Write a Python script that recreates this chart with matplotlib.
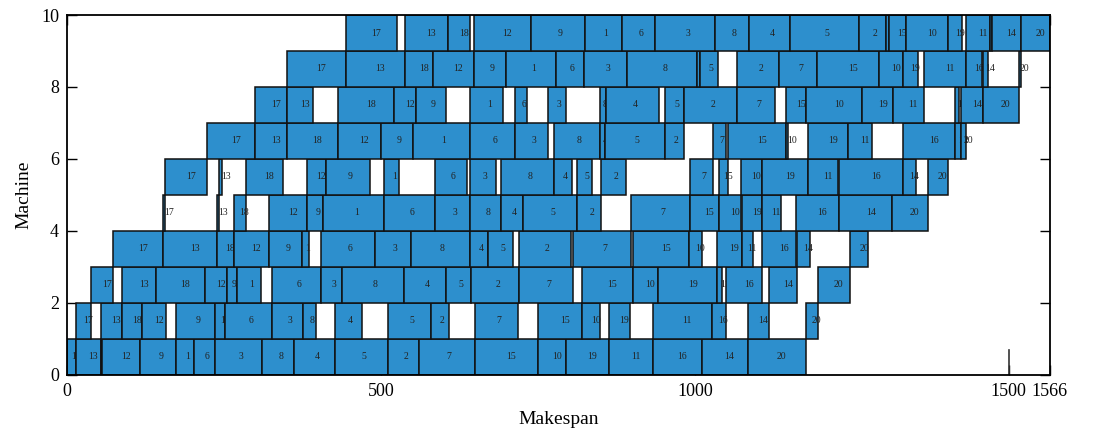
import matplotlib
matplotlib.use("Agg")
import matplotlib.pyplot as plt

plt.rcParams["font.family"] = ["Liberation Serif", "DejaVu Serif"]

# Job processing order (permutation flow shop)
sequence = [17, 13, 18, 12, 9, 1, 6, 3, 8, 4, 5, 2, 7, 15, 10, 19, 11, 16, 14, 20]

# Processing times, one list per machine, aligned with `sequence`
m0 = [14, 39, 3, 60, 58, 28, 33, 75, 52, 64, 85, 49, 89, 101, 44, 69, 70, 78, 73, 93]
m1 = [23, 34, 32, 38, 61, 17, 74, 49, 22, 43, 68, 30, 69, 71, 28, 33, 94, 22, 34, 19]
m2 = [36, 54, 78, 35, 17, 38, 78, 33, 100, 66, 41, 76, 86, 80, 41, 94, 8, 58, 45, 52]
m3 = [79, 87, 26, 56, 53, 11, 86, 57, 94, 29, 40, 82, 92, 90, 20, 39, 17, 54, 21, 28]
m4 = [4, 3, 19, 61, 26, 97, 81, 56, 49, 36, 86, 38, 94, 47, 35, 32, 30, 69, 85, 56]
m5 = [66, 5, 60, 30, 70, 24, 51, 41, 84, 29, 23, 39, 37, 14, 33, 73, 49, 101, 22, 33]
m6 = [77, 51, 81, 69, 51, 91, 72, 52, 74, 8, 95, 30, 21, 92, 3, 64, 38, 84, 10, 7]
m7 = [51, 42, 90, 34, 48, 53, 19, 28, 9, 85, 31, 85, 60, 32, 90, 49, 49, 6, 34, 57]
m8 = [94, 94, 45, 65, 51, 80, 44, 69, 112, 4, 29, 66, 61, 99, 38, 24, 67, 26, 8, 4]
m9 = [81, 69, 35, 91, 86, 59, 53, 95, 54, 66, 110, 43, 4, 28, 67, 22, 38, 3, 47, 46]
proc_times = [m0, m1, m2, m3, m4, m5, m6, m7, m8, m9]

makespan = 1566
bound = 1500
x_ticks = [0, 500, 1000, 1500, 1566]
y_ticks = [0, 2, 4, 6, 8, 10]

bar_color = "#2d8fcd"

# Semi-active schedule: a job starts when both the machine and the job are free
n_mach = len(proc_times)
n_jobs = len(sequence)
starts = [[0.0] * n_jobs for _ in range(n_mach)]
ends = [[0.0] * n_jobs for _ in range(n_mach)]
for m in range(n_mach):
    for j in range(n_jobs):
        machine_free = ends[m][j - 1] if j > 0 else 0
        job_free = ends[m - 1][j] if m > 0 else 0
        starts[m][j] = max(machine_free, job_free)
        ends[m][j] = starts[m][j] + proc_times[m][j]

fig = plt.figure(figsize=(10.96, 4.42), dpi=100)
ax = fig.add_axes([0.0614, 0.1523, 0.8966, 0.8137])

z = 3
for m in range(n_mach):
    for j, job in enumerate(sequence):
        s = starts[m][j]
        d = proc_times[m][j]
        ax.barh(m + 0.5, d, left=s, height=1.0, color=bar_color,
                edgecolor="#111111", linewidth=1.1, zorder=z)
        ax.text(s + d / 2, m + 0.5, str(job), ha="left", va="center",
                fontsize=7, color="#222222", zorder=z + 1)
        z += 2

ax.plot([bound, bound], [0, 0.68], color="#333333", linewidth=1.2, zorder=z)

ax.set_xlim(0, makespan)
ax.set_ylim(0, 10)
ax.set_xticks(x_ticks)
ax.set_yticks(y_ticks)
ax.tick_params(axis="both", direction="in", length=7, width=1.0,
               labelsize=13, right=True, top=True, pad=6)
for sp in ax.spines.values():
    sp.set_linewidth(1.3)
    sp.set_zorder(z + 10)

ax.set_xlabel("Makespan", fontsize=14, labelpad=8)
ax.set_ylabel("Machine", fontsize=14, labelpad=6)

fig.savefig("out.png", dpi=100)
